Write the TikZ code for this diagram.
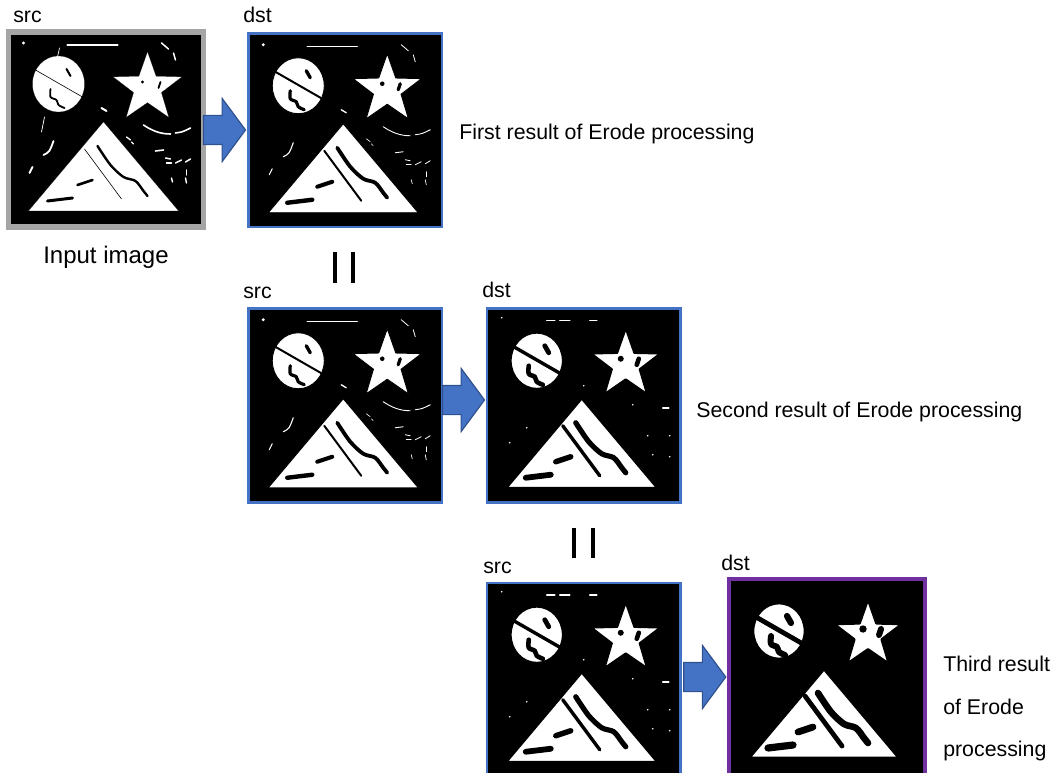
\documentclass[tikz,border=0pt]{standalone}
\usepackage{fontspec}
\setmainfont{Liberation Sans}
\usetikzlibrary{shapes.arrows,calc}

\newdimen\pxu \pxu=0.75pt

\tikzset{
  panel/.style={draw=#1, fill=black, inner sep=0pt, outer sep=0pt},
  tag/.style={font=\fontsize{16pt}{19pt}\selectfont, inner sep=0pt, anchor=base west},
  flow/.style={single arrow, single arrow head extend=12.75pt, single arrow tip angle=107,
    minimum height=31.5pt, inner xsep=0pt, inner ysep=10.5pt, anchor=tip,
    fill=flowBlue, draw=flowEdge, line width=0.9pt},
  speck/.style={white, line cap=round},
  ink/.style={black, line cap=round, line join=round},
}

% one binary picture, #1 = panel node, #2 = number of Erode passes
\newcommand\erodeimg[2]{%
  \begin{scope}[shift={(#1.north west)}, shift={(2,2)}]
  \pgfmathsetmacro\erodeGrow{1.4*#2}
  \pgfmathsetmacro\erodeEat{0.9*#2}
  \pgfmathsetmacro\erodeThin{0.7*#2}
  \tikzset{blob/.style={fill=white, draw=black, line join=round, line width={(\erodeEat+0.01)*\pxu}}}

% white shapes
  \filldraw[blob] (48,50) ellipse [x radius=26, y radius=28];
  \filldraw[blob] (137,54) ++(-90:36)
    \foreach \k in {1,...,9} {-- ($(137,54)+(\k*36-90:{ifthenelse(mod(\k,2)==1,14.5,36)})$)} -- cycle;
  \filldraw[blob] (93,88) -- (18,177) -- (168,177) -- cycle;

% black marks inside the shapes
  \draw[ink, line width={(0.6+\erodeGrow)*\pxu}] (25,36) -- (72,63);
  \draw[ink, line width={(2+\erodeGrow)*\pxu}] (56,35) -- (60,42);
  \draw[ink, line width={(1.8+\erodeGrow)*\pxu}] plot[smooth] coordinates {(40,55) (40,63) (46,66) (48,71) (54,74)};
  \fill[black] (132,48) circle [radius={1.6+\erodeGrow/2}];
  \draw[ink, line width={(1.8+\erodeGrow)*\pxu}] (150,48) -- (148,54);
  \draw[ink, line width={(0.6+\erodeGrow)*\pxu}] (74,115) -- (111,165);
  \draw[ink, line width={(2.4+\erodeGrow)*\pxu}] plot[smooth] coordinates {(87,112) (100,131) (113,143) (125,147) (133,157) (137,162)};
  \draw[ink, line width={(2.6+\erodeGrow)*\pxu}] (67,151) -- (82,146);
  \draw[ink, line width={(3+\erodeGrow)*\pxu}] (37,167) -- (62,164);

% white noise
  \ifnum#2<2
    \foreach \w/\a/\b in {2.2/{57,11}/{107,11}, 1.5/{151,9}/{158,15}, 1.5/{163,19}/{165,26},
        2.0/{91,74}/{96,77}, 1.8/{19,139}/{22,133}, 1.3/{116,103}/{120,106}, 1.3/{121,108}/{123,110},
        1.6/{145,117}/{153,116}, 1.5/{165,129}/{171,126}, 1.5/{175,128}/{180,125},
        1.4/{176,136}/{176,141}, 1.4/{161,144}/{162,148}, 1.4/{175,144}/{176,149},
        1.5/{155,124}/{160,125}, 1.5/{156,129}/{161,129}}
      \draw[speck, line width={(\w-\erodeThin)*\pxu}] (\a) -- (\b);
    \draw[speck, line width={(1.6-\erodeThin)*\pxu}] (133,91) .. controls (142,97) and (150,100) .. (160,100)
      (165,99) .. controls (172,98) .. (180,94);
    \draw[speck, line width={(1.8-\erodeThin)*\pxu}] (33,121) .. controls (39,118) .. (43,107);
    \fill[white] (13,9) circle [radius=1.6];
  \fi
  \ifnum#2=0
    \foreach \a/\b in {{49,14}/{47,23}, {34,83}/{31,98}}
      \draw[speck, line width=0.7\pxu] (\a) -- (\b);
  \fi
  \ifnum#2=2
    \foreach \a/\b in {{58,10}/{66,10}, {71,10}/{81,10}, {101,10}/{108,10}, {174,97}/{180,97}}
      \draw[speck, line width=1.5\pxu] (\a) -- (\b);
    \foreach \p in {{13,7}, {95,75}, {144,94}, {21,132}, {38,117}, {159,125}, {181,125}, {164,144}, {181,146}}
      \fill[white] (\p) circle [radius=0.8];
  \fi
  \end{scope}}

\begin{document}
\begin{tikzpicture}[x=0.75pt, y=-0.75pt]

% Office colours
\definecolor{frameGray}{HTML}{A5A5A5}
\definecolor{frameBlue}{HTML}{4472C4}
\definecolor{framePurple}{HTML}{7030A0}
\definecolor{flowBlue}{HTML}{4472C4}
\definecolor{flowEdge}{HTML}{2F528F}

\useasboundingbox (0,0) rectangle (1059,773);

% --- PANELS ---
\node[panel=frameGray, line width=5.5\pxu, minimum size=195\pxu] (input) at (106,129.5) {};
\node[panel=frameBlue, line width=2.5\pxu, minimum size=193.5\pxu] (dst1) at (345,130.5) {};
\node[panel=frameBlue, line width=2.5\pxu, minimum size=193.5\pxu] (src2) at (345,405.5) {};
\node[panel=frameBlue, line width=2.5\pxu, minimum size=193.5\pxu] (dst2) at (583.5,405.5) {};
\node[panel=frameBlue, line width=2.5\pxu, minimum size=193.5\pxu] (src3) at (583.5,679.5) {};
\node[panel=framePurple, line width=4.5\pxu, minimum size=196\pxu] (dst3) at (827,677) {};

\erodeimg{input}{0}
\erodeimg{dst1}{1}
\erodeimg{src2}{1}
\erodeimg{dst2}{2}
\erodeimg{src3}{2}
\erodeimg{dst3}{3}

% --- ARROWS ---
\node[flow] (pass1) at ($(dst1.west)+(-2,-0.5)$) {};
\node[flow] (pass2) at ($(dst2.west)+(-1.5,-5.5)$) {};
\node[flow] (pass3) at ($(dst3.west)+(-2.5,0)$) {};

% dst = next src
\foreach \x in {334.5, 353}
  \draw[line width=4\pxu] (\x,252) -- (\x,283);
\foreach \x in {574, 592.5}
  \draw[line width=4\pxu] (\x,528) -- (\x,558);

% --- LABELS ---
\node[tag] (srcIn) at (13,23) {src};
\node[tag] (dstA) at (243,23) {dst};
\node[tag] (srcB) at (243,299) {src};
\node[tag] (dstB) at (482,298) {dst};
\node[tag] (srcC) at (483,573) {src};
\node[tag] (dstC) at (721,570) {dst};

\node[tag, font=\fontsize{18pt}{22pt}\selectfont] (inCap) at (43,264) {Input image};
\node[tag] (capA) at (459,140) {First result of Erode processing};
\node[tag] (capB) at (696,417) {Second result of Erode processing};
\node[tag, anchor=north west, align=left, font=\fontsize{16pt}{31.9pt}\selectfont] (capC) at (943,656)
  {Third result\\of Erode\\processing};

\end{tikzpicture}
\end{document}
